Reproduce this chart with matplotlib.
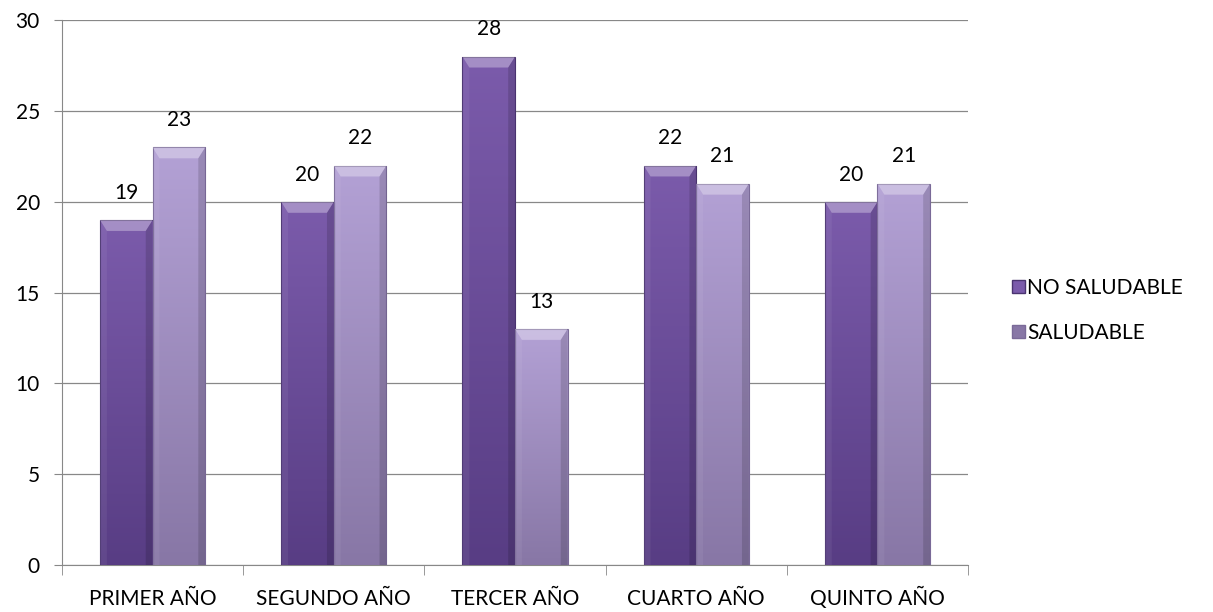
import numpy as np
import matplotlib.pyplot as plt
from matplotlib.patches import Rectangle, Polygon

plt.rcParams['font.family'] = ['Lato', 'DejaVu Sans']

categories = ['PRIMER AÑO', 'SEGUNDO AÑO', 'TERCER AÑO', 'CUARTO AÑO', 'QUINTO AÑO']
no_saludable = [19, 20, 28, 22, 20]
saludable = [23, 22, 13, 21, 21]
series_names = ['NO SALUDABLE', 'SALUDABLE']
y_ticks = [0, 5, 10, 15, 20, 25, 30]

colors = [('#583d84', '#7b5bab'), ('#8877a6', '#b3a1d5')]  # (bottom, top) of gradient
edge = ['#4a3470', '#7a6a98']

fig = plt.figure(figsize=(12.13, 6.12), dpi=100)
ax = fig.add_axes([0.0511, 0.0768, 0.747, 0.890])

x = np.arange(len(categories))
w = 0.29


def draw_bar(xc, h, cbot, ctop, ec):
    x0 = xc - w / 2
    grad = np.linspace(0, 1, 64).reshape(-1, 1)
    c0 = np.array(plt.matplotlib.colors.to_rgb(cbot))
    c1 = np.array(plt.matplotlib.colors.to_rgb(ctop))
    img = c0 + (c1 - c0) * grad[..., None] * np.ones((1, 1, 3))
    im = ax.imshow(img, extent=[x0, x0 + w, 0, h], origin='lower',
                   aspect='auto', zorder=3, interpolation='bilinear')
    rect = Rectangle((x0, 0), w, h, facecolor='none', edgecolor=ec, lw=0.8, zorder=4)
    ax.add_patch(rect)
    im.set_clip_path(rect)
    # bevel on top
    bh = 0.6
    bw = w * 0.13
    top = Polygon([[x0, h], [x0 + w, h], [x0 + w - bw, h - bh], [x0 + bw, h - bh]],
                  closed=True, facecolor='white', alpha=0.32, edgecolor='none', zorder=4)
    ax.add_patch(top)
    left = Polygon([[x0, h], [x0 + bw, h - bh], [x0 + bw, 0], [x0, 0]],
                   closed=True, facecolor='white', alpha=0.06, edgecolor='none', zorder=4)
    ax.add_patch(left)
    right = Polygon([[x0 + w, h], [x0 + w - bw, h - bh], [x0 + w - bw, 0], [x0 + w, 0]],
                    closed=True, facecolor='black', alpha=0.14, edgecolor='none', zorder=4)
    ax.add_patch(right)
    ax.text(xc, h + 0.95, str(h), ha='center', va='bottom', fontsize=15, zorder=5)


for i in range(len(categories)):
    draw_bar(x[i] - w / 2, no_saludable[i], colors[0][0], colors[0][1], edge[0])
    draw_bar(x[i] + w / 2, saludable[i], colors[1][0], colors[1][1], edge[1])

ax.set_xlim(-0.5, len(categories) - 0.5)
ax.set_ylim(0, 30)
ax.set_yticks(y_ticks)
ax.set_yticklabels([str(t) for t in y_ticks], fontsize=15)
ax.set_xticks(x)
ax.set_xticklabels(categories, fontsize=15, va='baseline')
ax.tick_params(axis='x', length=0, pad=29)
ax.set_xticks(np.arange(len(categories) + 1) - 0.5, minor=True)
ax.tick_params(axis='x', which='minor', length=7, color='#888888')
ax.tick_params(axis='y', length=6, color='#888888', pad=10)
ax.grid(axis='y', color='#888888', lw=0.9, zorder=0)
ax.set_axisbelow(True)
for s in ['top', 'right']:
    ax.spines[s].set_visible(False)
for s in ['left', 'bottom']:
    ax.spines[s].set_color('#888888')

handles = [Rectangle((0, 0), 1, 1, facecolor=colors[0][1], edgecolor=edge[0]),
           Rectangle((0, 0), 1, 1, facecolor=colors[1][0], edgecolor=edge[1])]
fig.legend(handles, series_names, loc='center left', bbox_to_anchor=(0.819, 0.493),
           frameon=False, fontsize=15, handlelength=0.6, handleheight=0.6,
           handletextpad=0.1, labelspacing=1.2)

fig.savefig('out.png', dpi=100)
